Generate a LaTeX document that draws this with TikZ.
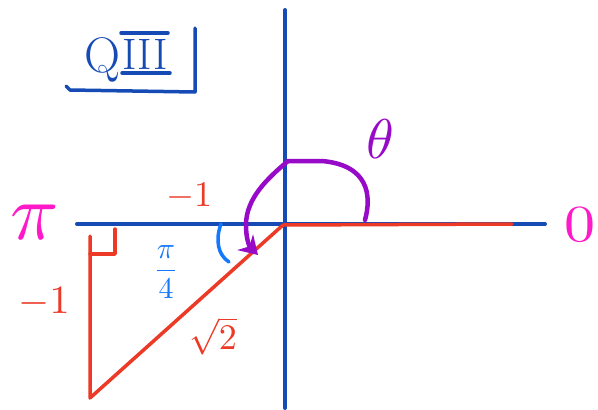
\documentclass[tikz,border=0pt]{standalone}
\usepackage{graphicx}
\usetikzlibrary{arrows.meta}
\definecolor{axisblue}{RGB}{22,74,180}
\definecolor{penred}{RGB}{236,58,38}
\definecolor{penmag}{RGB}{255,25,200}
\definecolor{penpurple}{RGB}{150,10,200}
\definecolor{penlblue}{RGB}{20,120,255}
\tikzset{
  axisline/.style={draw=axisblue,line width=4pt},
  redline/.style={draw=penred,line width=3.5pt},
  lbl/.style={inner sep=0pt,outer sep=0pt},
  fs/.style={font=\fontsize{#1}{#1}\selectfont}
}
\begin{document}
\begin{tikzpicture}[x=1pt,y=-1pt,line cap=round,line join=round]
\useasboundingbox[fill=white] (0,0) rectangle (598,410);
% coordinates
\coordinate (O) at (285,224);
\coordinate (xl) at (77,224);
\coordinate (xr) at (545,224);
\coordinate (yt) at (285,10);
\coordinate (yb) at (285,408);
\coordinate (R) at (512,224);
\coordinate (A) at (90,398);
\coordinate (B) at (90,236);
\coordinate (H) at (283,225);
% axes
\draw[axisline] (xl) -- (xr);
\draw[axisline] (yt) -- (yb);
% triangle
\draw[redline] (B) -- (A) -- (H) -- (R);
\draw[redline] (90,254) -- (115,254) -- (115,229);
% angle arc pi/4
\draw[draw=penlblue,line width=3.5pt] (221,224) .. controls (215,240) and (218,255) .. (229,262);
% theta arc
\draw[draw=penpurple,line width=4.5pt,-{Stealth[length=18pt,width=22pt]}]
  (365,220) .. controls (372,195) and (368,165) .. (322,161) -- (288,161)
  .. controls (268,178) and (246,198) .. (246,225) .. controls (246,238) and (249,246) .. (258,255);
% QIII box
\draw[axisline,line width=3.5pt] (66,86) -- (70,90) -- (195,92) -- (195,28);
\node[lbl,text=axisblue,fs=50] (q) at (102,60) {Q};
\node[lbl,text=axisblue,fs=44] (iii) at (145,54) {III};
\draw[axisline,line width=3.5pt] (121,33) -- (168,33);
\draw[axisline,line width=3.5pt] (122,73) -- (170,73);
% labels
\node[lbl,text=penmag] (pi) at (35,222) {\scalebox{8}{$\pi$}};
\node[lbl,text=penmag] (zero) at (580,225) {\scalebox{6.2}[5.2]{0}};
\node[lbl,text=penred] (m1a) at (189,196) {\scalebox{3.6}{$-1$}};
\node[lbl,text=penred] (m1b) at (44,302) {\scalebox{4}{$-1$}};
\node[lbl,text=penlblue] (pi4) at (166,272) {\scalebox{3}{$\displaystyle\frac{\pi}{4}$}};
\node[lbl,text=penred] (r2) at (213,336) {\scalebox{3.6}{$\sqrt{2}$}};
\node[lbl,text=penpurple] (th) at (380,139) {\scalebox{5.6}{$\theta$}};
\end{tikzpicture}
\end{document}
